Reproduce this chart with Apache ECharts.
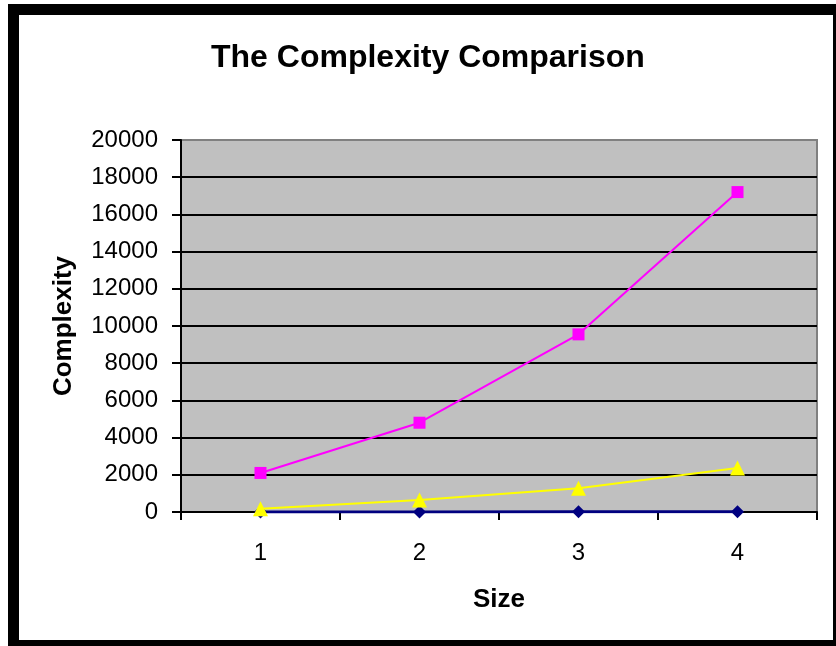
<!DOCTYPE html>
<html>
<head>
<meta charset="utf-8">
<script src="https://cdn.jsdelivr.net/npm/echarts@6/dist/echarts.min.js"></script>
<style>html,body{margin:0;padding:0;background:#fff;}#c{width:836px;height:646px;}</style>
</head>
<body>
<div id="c"></div>
<script>
var sizes = ['1', '2', '3', '4'];
var seriesA = [1, 4, 9, 16];
var seriesB = [2100, 4800, 9550, 17200];
var seriesC = [180, 640, 1280, 2360];
var yTicks = [0, 2000, 4000, 6000, 8000, 10000, 12000, 14000, 16000, 18000, 20000];

var font = 'Liberation Sans, Arial, sans-serif';
var chart = echarts.init(document.getElementById('c'), null, {renderer: 'canvas'});
var gridColors = yTicks.map(function (v, i) { return i === yTicks.length - 1 ? '#808080' : '#000000'; });
chart.setOption({
  animation: false,
  backgroundColor: '#ffffff',
  graphic: [
    {type: 'rect', shape: {x: 8, y: 4, width: 828, height: 642}, style: {fill: '#000000'}, z: -10},
    {type: 'rect', shape: {x: 19, y: 15, width: 814, height: 625}, style: {fill: '#ffffff'}, z: -9}
  ],
  title: {
    text: 'The Complexity Comparison',
    left: 206, top: 37,
    textStyle: {fontFamily: font, fontSize: 32, fontWeight: 'bold', color: '#000'}
  },
  grid: {
    left: 181, top: 140, width: 636, height: 372,
    show: true, backgroundColor: '#c0c0c0', borderColor: '#808080', borderWidth: 2
  },
  xAxis: {
    type: 'category', data: sizes, boundaryGap: true,
    name: 'Size', nameLocation: 'middle', nameGap: 75,
    nameTextStyle: {fontFamily: font, fontSize: 26, fontWeight: 'bold', color: '#000'},
    axisLine: {lineStyle: {color: '#000', width: 2}},
    axisTick: {show: true, interval: 0, length: 8, lineStyle: {color: '#000', width: 2}},
    axisLabel: {interval: 0, margin: 29, fontFamily: font, fontSize: 24, color: '#000'},
    splitLine: {show: false}
  },
  yAxis: {
    type: 'value', min: 0, max: 20000, interval: 2000,
    name: 'Complexity', nameLocation: 'middle', nameGap: 104,
    nameTextStyle: {fontFamily: font, fontSize: 26, fontWeight: 'bold', color: '#000'},
    axisLine: {show: true, lineStyle: {color: '#000', width: 2}},
    axisTick: {show: true, length: 9, lineStyle: {color: '#000', width: 2}},
    axisLabel: {margin: 23, fontFamily: font, fontSize: 24, color: '#000',
      formatter: function (v) { return String(v); }},
    splitLine: {show: true, lineStyle: {color: gridColors, width: 2}}
  },
  series: [
    {type: 'line', name: 'A', data: seriesA, symbol: 'diamond', symbolSize: 13,
      lineStyle: {color: '#000080', width: 3}, itemStyle: {color: '#000080'}, z: 3},
    {type: 'line', name: 'B', data: seriesB, symbol: 'rect', symbolSize: 12,
      lineStyle: {color: '#ff00ff', width: 2}, itemStyle: {color: '#ff00ff'}, z: 4},
    {type: 'line', name: 'C', data: seriesC, symbol: 'triangle', symbolSize: 15,
      lineStyle: {color: '#ffff00', width: 2}, itemStyle: {color: '#ffff00'}, z: 5}
  ]
});
</script>
</body>
</html>
